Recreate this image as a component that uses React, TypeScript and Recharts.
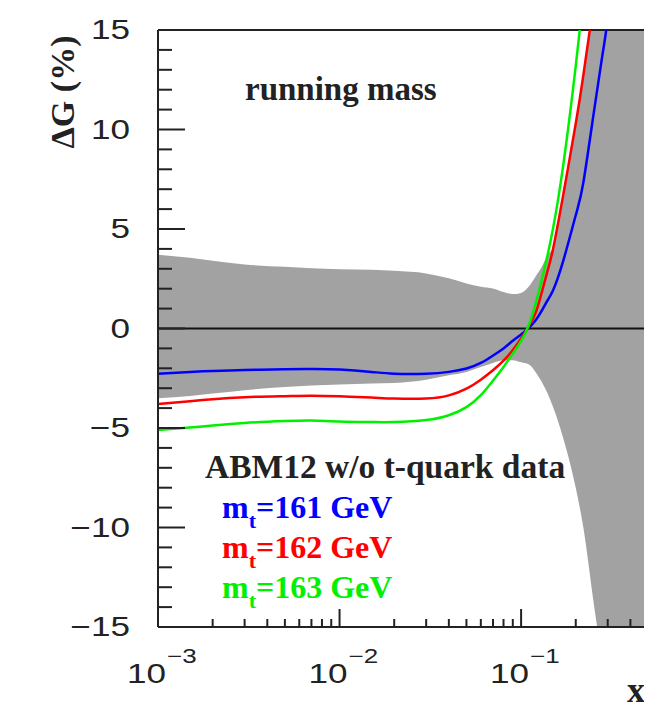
import React from 'react'
import {
  ComposedChart, Line, Area, XAxis, YAxis, ReferenceLine
} from 'recharts'

// x positions (log scale) shared by all series
const xs = [0.001, 0.0015, 0.002, 0.003, 0.005, 0.007, 0.01, 0.015, 0.02, 0.03, 0.04, 0.05, 0.06, 0.07, 0.08, 0.09, 0.1, 0.11, 0.12, 0.13, 0.14, 0.15, 0.17, 0.2, 0.22, 0.25, 0.28, 0.3, 0.35, 0.4, 0.5]

// ΔG (%) for each m_t
const mt161 = [-2.27, -2.18, -2.13, -2.08, -2.05, -2.03, -2.06, -2.18, -2.27, -2.27, -2.18, -2.01, -1.73, -1.36, -1.0, -0.62, -0.3, 0.02, 0.4, 0.9, 1.42, 1.92, 3.35, 5.69, 7.31, 10.7, 13.7, 15.6, 21, null, null]
const mt162 = [-3.79, -3.65, -3.55, -3.45, -3.4, -3.38, -3.41, -3.47, -3.52, -3.52, -3.36, -3.02, -2.57, -2.1, -1.62, -1.08, -0.5, 0.1, 0.76, 1.82, 2.91, 4.0, 6.63, 10.3, 12.7, 16.2, 19, null, null, null, null]
const mt163 = [-5.1, -4.98, -4.88, -4.75, -4.65, -4.62, -4.67, -4.7, -4.7, -4.6, -4.36, -3.95, -3.35, -2.62, -1.93, -1.26, -0.62, 0.15, 1.24, 2.45, 3.7, 5.04, 8.1, 13.2, 16.5, 20, null, null, null, null, null]

// PDF uncertainty band
const bandLow = [-3.5, -3.39, -3.27, -3.1, -2.94, -2.87, -2.82, -2.77, -2.74, -2.57, -2.35, -2.18, -1.93, -1.73, -1.6, -1.6, -1.7, -1.8, -2.18, -2.69, -3.27, -3.95, -5.46, -8.0, -9.98, -13.67, -17, -20, -40, -40, -40]
const bandHigh = [3.71, 3.55, 3.4, 3.22, 3.1, 3.03, 2.98, 2.95, 2.9, 2.77, 2.52, 2.26, 2.1, 2.01, 1.83, 1.73, 1.79, 2.1, 2.6, 3.1, 3.69, 4.1, 6.7, 10.4, 12.8, 16, 20, 40, 40, 40, 40]

const xTicks = [0.001, 0.002, 0.003, 0.004, 0.005, 0.006, 0.007, 0.008, 0.009, 0.01, 0.02, 0.03, 0.04, 0.05, 0.06, 0.07, 0.08, 0.09, 0.1, 0.2, 0.3, 0.4]
const xDecades = [0.001, 0.01, 0.1]
const decadeExp = ['−3', '−2', '−1']
const yTicks = [-15, -14, -13, -12, -11, -10, -9, -8, -7, -6, -5, -4, -3, -2, -1, 0, 1, 2, 3, 4, 5, 6, 7, 8, 9, 10, 11, 12, 13, 14, 15]

const legend = [
  { label: '161', color: '#0000ff' },
  { label: '162', color: '#ff0000' },
  { label: '163', color: '#00f000' },
]

const data = xs.map((x, i) => ({
  x,
  mt161: mt161[i],
  mt162: mt162[i],
  mt163: mt163[i],
  band: [bandLow[i], bandHigh[i]],
}))

const AXIS = '#222'
const SANS = '"Liberation Sans", Arial, sans-serif'
const SERIF = '"Liberation Serif", "Times New Roman", serif'

const XTick = ({ x, y, payload }: any) => {
  const v = payload.value
  const di = xDecades.findIndex(d => Math.abs(d - v) / d < 1e-6)
  const major = di >= 0
  return (
    <g>
      <line x1={x} x2={x} y1={y} y2={y - (major ? 18 : 8)} stroke={AXIS} strokeWidth={2} />
      {major && (
        <>
          <text transform={`translate(${x + 8},683) scale(1.3,1)`} textAnchor="end" fontFamily={SANS} fontSize={27} fill="#222">10</text>
          <text transform={`translate(${x + 9},663) scale(1.3,1)`} textAnchor="start" fontFamily={SANS} fontSize={20} fill="#222">{decadeExp[di]}</text>
        </>
      )}
    </g>
  )
}

const YTickLeft = ({ x, y, payload }: any) => {
  const v = payload.value
  const major = v % 5 === 0
  return (
    <g>
      <line x1={x} x2={x + (major ? 27 : 14)} y1={y} y2={y} stroke={AXIS} strokeWidth={2} />
      {major && (
        <text transform={`translate(${x - 28},${y}) scale(1.3,1)`} textAnchor="end" dominantBaseline="central"
          fontFamily={SANS} fontSize={27} fill="#222">
          {v < 0 ? `−${-v}` : `${v}`}
        </text>
      )}
    </g>
  )
}

const YTickRight = ({ x, y }: any) => (
  <line x1={x} x2={x + 8} y1={y} y2={y} stroke={AXIS} strokeWidth={2} />
)

export default function App() {
  return (
    <div style={{ position: 'relative', margin: -8, width: 652, height: 726, background: '#161616', overflow: 'hidden' }}>
      <div style={{ position: 'absolute', left: 7, top: 6, right: 0, bottom: 0, background: '#fff' }} />
      <div style={{ position: 'absolute', left: 0, top: 0 }}>
        <ComposedChart width={652} height={726} data={data} margin={{ top: 30, right: 0, bottom: 59, left: 98 }}>
          <XAxis dataKey="x" type="number" scale="log" domain={[0.001, 0.5]} allowDataOverflow
            ticks={xTicks} interval={0} tick={<XTick />} tickLine={false} tickSize={0} tickMargin={0}
            height={40} axisLine={{ stroke: AXIS, strokeWidth: 2 }} />
          <YAxis yAxisId="l" type="number" domain={[-15, 15]} allowDataOverflow ticks={yTicks} interval={0}
            tick={<YTickLeft />} tickLine={false} tickSize={0} tickMargin={0} width={60}
            axisLine={{ stroke: AXIS, strokeWidth: 2 }} />
          <YAxis yAxisId="r" orientation="right" type="number" domain={[-15, 15]} allowDataOverflow ticks={yTicks}
            interval={0} tick={<YTickRight />} tickLine={false} tickSize={0} tickMargin={0} width={4}
            axisLine={{ stroke: AXIS, strokeWidth: 2 }} />
          <Area yAxisId="l" dataKey="band" type="monotone" fill="#a2a2a2" fillOpacity={1} stroke="none" isAnimationActive={false} />
          <ReferenceLine yAxisId="l" y={0} stroke="#111" strokeWidth={2} />
          <ReferenceLine yAxisId="l" y={15} stroke={AXIS} strokeWidth={2} />
          <Line yAxisId="l" dataKey="mt161" type="natural" stroke="#0000ff" strokeWidth={2.5} dot={false} isAnimationActive={false} />
          <Line yAxisId="l" dataKey="mt162" type="natural" stroke="#ff0000" strokeWidth={2.5} dot={false} isAnimationActive={false} />
          <Line yAxisId="l" dataKey="mt163" type="natural" stroke="#00f000" strokeWidth={2.5} dot={false} isAnimationActive={false} />
        </ComposedChart>
      </div>
      <svg width={652} height={726} style={{ position: 'absolute', left: 0, top: 0, pointerEvents: 'none' }}>
        <text transform="translate(74,92) rotate(-90)" textAnchor="middle" fontFamily={SERIF} fontWeight="bold" fontSize={34} fill="#222">ΔG (%)</text>
        <text x={245} y={100} fontFamily={SERIF} fontWeight="bold" fontSize={33} fill="#222">running mass</text>
        <text x={636} y={702} textAnchor="middle" fontFamily={SERIF} fontWeight="bold" fontSize={36} fill="#222">x</text>
        <text x={205} y={478} fontFamily={SERIF} fontWeight="bold" fontSize={33.5} fill="#222">ABM12 w/o t-quark data</text>
        {legend.map((l, i) => (
          <text key={l.label} x={222} y={518 + i * 40} fontFamily={SERIF} fontWeight="bold" fontSize={32} fill={l.color}>
            m<tspan fontSize={22} dy={10}>t</tspan><tspan dy={-10}>={l.label} GeV</tspan>
          </text>
        ))}
      </svg>
    </div>
  )
}
